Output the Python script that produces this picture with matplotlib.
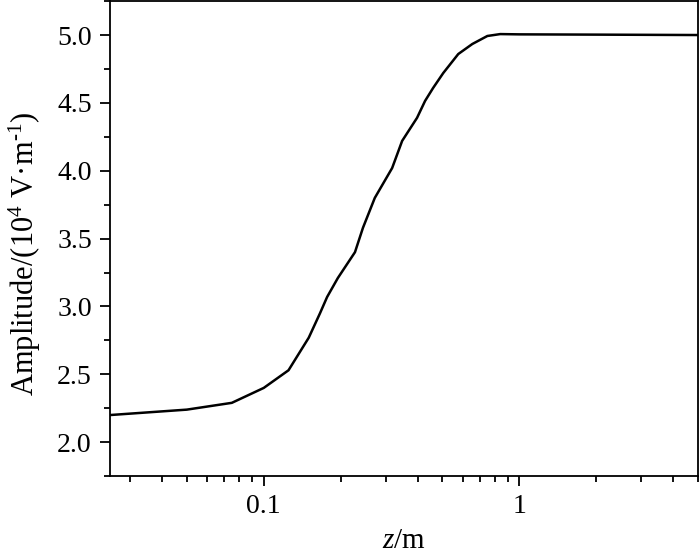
import numpy as np
import matplotlib
matplotlib.use('Agg')
import matplotlib.pyplot as plt
from matplotlib.ticker import LogLocator, NullFormatter, FixedLocator, FixedFormatter, MultipleLocator

# data
z = [0.025, 0.05, 0.075, 0.1, 0.125, 0.15, 0.166, 0.177, 0.195, 0.2275,
     0.2445, 0.272, 0.318, 0.348, 0.398, 0.428, 0.46, 0.504, 0.577, 0.655,
     0.75, 0.842, 1.0, 2.0, 5.0]
amp = [2.20, 2.24, 2.29, 2.40, 2.53, 2.77, 2.95, 3.07, 3.21, 3.40,
       3.58, 3.80, 4.02, 4.22, 4.39, 4.515, 4.61, 4.72, 4.86, 4.934,
       4.993, 5.007, 5.005, 5.003, 5.0]

plt.rcParams['font.family'] = ['Liberation Serif', 'DejaVu Serif']
plt.rcParams['mathtext.fontset'] = 'custom'
plt.rcParams['mathtext.rm'] = 'Liberation Serif'
plt.rcParams['mathtext.it'] = 'Liberation Serif:style=italic'

fig = plt.figure(figsize=(7, 5.53), dpi=100)
ax = fig.add_axes([0.157, 0.139, 0.84, 0.859])

ax.plot(z, amp, color='black', lw=1.8)

ax.set_xscale('log')
ax.set_xlim(0.025, 5)
ax.set_ylim(1.75, 5.25)

ax.xaxis.set_major_locator(FixedLocator([0.1, 1]))
ax.xaxis.set_major_formatter(FixedFormatter(['0.1', '1']))
ax.xaxis.set_minor_locator(LogLocator(base=10, subs=np.arange(2, 10)))
ax.xaxis.set_minor_formatter(NullFormatter())
ax.yaxis.set_major_locator(MultipleLocator(0.5))
ax.yaxis.set_minor_locator(MultipleLocator(0.25))
ax.yaxis.set_major_formatter(plt.FormatStrFormatter('%.1f'))

ax.tick_params(which='major', direction='out', length=7, width=1.3, labelsize=20, pad=6)
ax.tick_params(which='minor', direction='out', length=4, width=1.3)
ax.tick_params(top=False, right=False, which='both')
for s in ax.spines.values():
    s.set_linewidth(1.3)

ax.set_xlabel('$z$/m', fontsize=21, labelpad=6)
ax.set_ylabel('Amplitude/(10$^4$ V·m$^{\\text{-1}}$)', fontsize=22)
ax.yaxis.set_label_coords(-0.113, 0.469)

plt.savefig('out.png', dpi=100)
